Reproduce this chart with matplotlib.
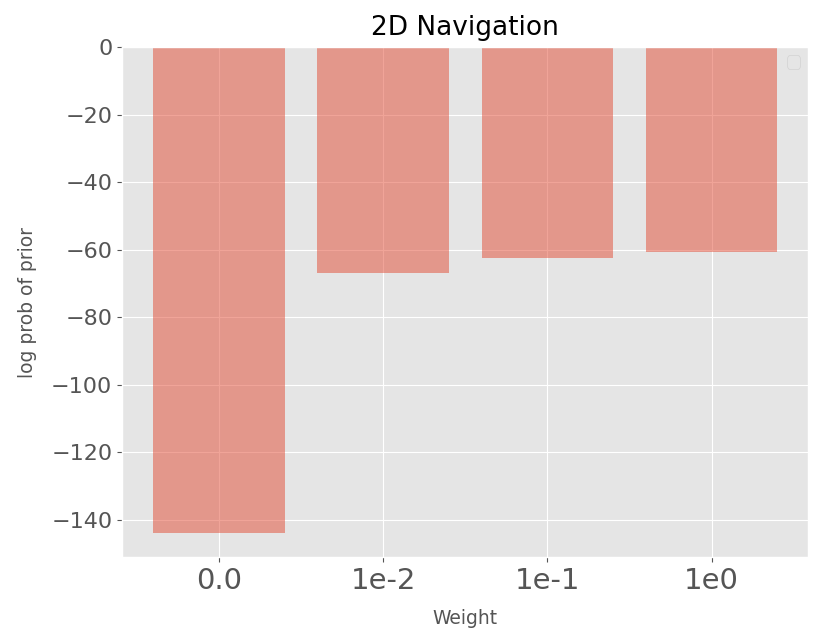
import numpy as np
import matplotlib.pyplot as plt

plt.style.use('ggplot')

weights = ["0.0", "1e-2", "1e-1", "1e0"]
log_prob = [-143.8, -66.8, -62.6, -60.8]

fig = plt.figure(figsize=(8.3, 6.44), dpi=100)
ax = fig.add_axes([0.147, 0.135, 0.827, 0.792])
x = np.arange(len(weights))
ax.bar(x, log_prob, width=0.8, alpha=0.5)
ax.set_xticks(x)
ax.set_xticklabels(weights, fontsize=21)
ax.tick_params(axis='y', labelsize=16)
ax.set_xlabel("Weight", fontsize=13.5, labelpad=10)
ax.set_ylabel("log prob of prior", fontsize=13.5, labelpad=10)
ax.set_title("2D Navigation", fontsize=19, color='black', pad=9)
ax.legend(handles=[], loc='upper right', fontsize=12)
fig.savefig("out.png", dpi=100)
